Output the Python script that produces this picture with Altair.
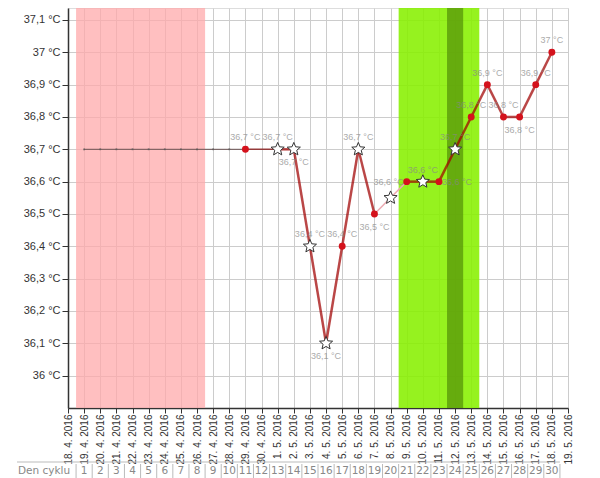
import math
import altair as alt
import pandas as pd

# ---------------- data ----------------
dates = ["18. 4. 2016", "19. 4. 2016", "20. 4. 2016", "21. 4. 2016", "22. 4. 2016",
         "23. 4. 2016", "24. 4. 2016", "25. 4. 2016", "26. 4. 2016", "27. 4. 2016",
         "28. 4. 2016", "29. 4. 2016", "30. 4. 2016", "1. 5. 2016", "2. 5. 2016",
         "3. 5. 2016", "4. 5. 2016", "5. 5. 2016", "6. 5. 2016", "7. 5. 2016",
         "8. 5. 2016", "9. 5. 2016", "10. 5. 2016", "11. 5. 2016", "12. 5. 2016",
         "13. 5. 2016", "14. 5. 2016", "15. 5. 2016", "16. 5. 2016", "17. 5. 2016",
         "18. 5. 2016", "19. 5. 2016"]
cycle_days = [1, 2, 3, 4, 5, 6, 7, 8, 9, 10, 11, 12, 13, 14, 15, 16, 17, 18, 19, 20,
              21, 22, 23, 24, 25, 26, 27, 28, 29, 30]

# measured temperatures (cycle day -> temperature)
measured_days = [11, 13, 14, 15, 16, 17, 18, 19, 20, 21, 22, 23, 24, 25, 26, 27, 28, 29, 30]
temps = [36.7, 36.7, 36.7, 36.4, 36.1, 36.4, 36.7, 36.5, 36.55, 36.6, 36.6, 36.6, 36.7,
         36.8, 36.9, 36.8, 36.8, 36.9, 37.0]
markers = ["dot", "star", "star", "star", "star", "dot", "star", "dot", "star", "dot",
           "star", "dot", "star", "dot", "dot", "dot", "dot", "dot", "dot"]
label_place = ["above", "above", "below", "above", "below", "above", "above", "below",
               "none", "left", "above", "right", "above", "above", "above", "above",
               "below", "above", "above"]
# style of the connection from each measured point to the next one
link_style = ["link", "main", "main", "main", "main", "main", "main", "faint", "faint",
              "main", "main", "main", "main", "main", "main", "main", "main", "main"]

# days without measurement shown on a baseline
baseline_days = [1, 2, 3, 4, 5, 6, 7, 8, 9, 10, 11]
baseline_temp = 36.7

# colored periods (cycle days)
menstruation_days = [1, 2, 3, 4, 5, 6, 7, 8]
fertile_days = [21, 22, 23, 24, 25]
ovulation_days = [24]

y_ticks = [36.0, 36.1, 36.2, 36.3, 36.4, 36.5, 36.6, 36.7, 36.8, 36.9, 37.0, 37.1]

# ---------------- tables ----------------
pts = pd.DataFrame({"day": measured_days, "temp": temps, "marker": markers,
                    "place": label_place})

seg_rows = []
for k, st in enumerate(link_style):
    seg_rows.append({"seg": k, "day": measured_days[k], "temp": temps[k], "style": st})
    seg_rows.append({"seg": k, "day": measured_days[k + 1], "temp": temps[k + 1], "style": st})
for d in baseline_days:
    seg_rows.append({"seg": -1, "day": d, "temp": baseline_temp, "style": "baseline"})
segs = pd.DataFrame(seg_rows)

base_pts = pd.DataFrame({"day": baseline_days[:-1], "temp": [baseline_temp] * (len(baseline_days) - 1)})

bands = pd.DataFrame({
    "kind": ["menstruace", "plodne", "ovulace"],
    "first": [min(menstruation_days), min(fertile_days), min(ovulation_days)],
    "last": [max(menstruation_days), max(fertile_days), max(ovulation_days)],
})

cells = pd.DataFrame({"day": cycle_days})
borders = pd.DataFrame({"day": cycle_days + [cycle_days[-1] + 1]})

# ---------------- encodings ----------------
FONT = "Liberation Sans"
label_arr = "[" + ",".join("'" + d + "'" for d in dates) + "]"

x_scale = alt.Scale(domain=[0, len(dates) - 1], nice=False, zero=False)
y_scale = alt.Scale(domain=[35.9, 37.137], nice=False, zero=False)

X_AXIS = alt.Axis(
    values=list(range(len(dates))), labelExpr=label_arr + "[datum.value]",
    labelAngle=270, labelFontSize=10, labelFont=FONT, labelColor="#333",
    labelOverlap=False, labelFlush=False, labelPadding=1,
    grid=True, gridColor="#cccccc", gridWidth=1,
    tickColor="#333", tickSize=5, domainColor="#333", domainWidth=1.5, title=None)
Y_AXIS = alt.Axis(
    values=y_ticks,
    labelExpr="replace(format(datum.value, '.1~f'), '.', ',') + ' °C'",
    labelFontSize=11, labelFont=FONT, labelColor="#333", labelPadding=2,
    grid=True, gridColor="#cccccc", gridWidth=1,
    tickColor="#333", tickSize=6, domainColor="#333", domainWidth=1.5, title=None)

X = alt.X("day:Q", scale=x_scale, axis=X_AXIS)
Y = alt.Y("temp:Q", scale=y_scale, axis=Y_AXIS)

band_colors = {"menstruace": ("#ffa9ab", 0.75), "plodne": ("#88f000", 0.88),
               "ovulace": ("#5a9a0a", 0.8)}
band_layers = []
for kind, (col, op) in band_colors.items():
    band_layers.append(
        alt.Chart(bands).transform_filter(alt.datum.kind == kind)
        .transform_calculate(x0="datum.first - 0.5", x1="datum.last + 0.5")
        .mark_rect(color=col, opacity=op)
        .encode(x=alt.X("x0:Q", scale=x_scale, axis=X_AXIS), x2="x1:Q",
                y=alt.value(0), y2=alt.value("height"))
    )

line_styles = {"baseline": ("#6a5050", 1.0, 1.0), "link": ("#8e2a2a", 1.5, 0.9),
               "main": ("#a00000", 2.5, 0.72), "faint": ("#eaa9b0", 1.5, 1.0)}
line_layers = []
for st, (col, w, op) in line_styles.items():
    line_layers.append(
        alt.Chart(segs).transform_filter(alt.datum.style == st)
        .mark_line(color=col, strokeWidth=w, opacity=op)
        .encode(x=X, y=Y, detail="seg:N", order="day:Q")
    )

base_marks = alt.Chart(base_pts).mark_point(
    shape="square", filled=True, color="#555", size=3, opacity=0.8
).encode(x=X, y=Y)

dots = alt.Chart(pts).transform_filter(alt.datum.marker == "dot").mark_circle(
    color="#d4121c", size=48, opacity=1).encode(x=X, y=Y)

star_pts = []
for k in range(10):
    r = 1.0 if k % 2 == 0 else 0.45
    a = math.radians(-90 + 36 * k)
    star_pts.append(f"{r * math.cos(a):.3f},{r * math.sin(a):.3f}")
STAR = "M" + "L".join(star_pts) + "Z"

stars = alt.Chart(pts).transform_filter(alt.datum.marker == "star").mark_point(
    shape=STAR, filled=True, fill="white", stroke="#333", strokeWidth=1,
    size=190, opacity=1).encode(x=X, y=Y)

place_style = {"above": dict(dy=-12, align="center"), "below": dict(dy=13, align="center"),
               "left": dict(dx=-3, align="right"), "right": dict(dx=3, align="left")}
label_layers = []
for pl, kw in place_style.items():
    label_layers.append(
        alt.Chart(pts).transform_filter(alt.datum.place == pl)
        .transform_calculate(lbl="replace(format(datum.temp, '.1~f'), '.', ',') + ' °C'")
        .mark_text(font=FONT, fontSize=9, color="#888888", opacity=0.7,
                   baseline="middle", **kw)
        .encode(x=X, y=Y, text="lbl:N")
    )

# ---- "Den cyklu" row below the axis ----
TABLE_Y = 463
table_title = alt.Chart(pd.DataFrame({"t": ["Den cyklu"]})).mark_text(
    font="DejaVu Sans", fontSize=10.5, color="#888", align="left", baseline="middle"
).encode(x=alt.value(-50), y=alt.value(TABLE_Y), text="t:N")
table_nums = alt.Chart(cells).mark_text(
    font="DejaVu Sans", fontSize=10.5, color="#888", align="center", baseline="middle"
).encode(x=X, y=alt.value(TABLE_Y), text="day:N")
table_top = alt.Chart(pd.DataFrame({"e": [cycle_days[-1] + 0.5]})).mark_rule(
    color="#bbb", strokeWidth=1
).encode(x=alt.X("e:Q", scale=x_scale, axis=X_AXIS), x2=alt.value(-51), y=alt.value(TABLE_Y - 9))
table_cells = alt.Chart(borders).transform_calculate(b="datum.day - 0.5").mark_rule(
    color="#bbb", strokeWidth=1
).encode(x=alt.X("b:Q", scale=x_scale, axis=X_AXIS), y=alt.value(TABLE_Y - 7), y2=alt.value(TABLE_Y + 12))

chart = alt.layer(
    *band_layers, *line_layers, base_marks, *label_layers, dots, stars,
    table_title, table_nums, table_top, table_cells
).properties(
    width=500, height=400,
    padding={"left": 60, "top": 0, "right": 20, "bottom": 70},
    autosize=alt.AutoSizeParams(type="none"),
).configure_view(stroke=None).configure(background="white")

chart.save("out.html", embed_options={"renderer": "svg", "actions": False})
